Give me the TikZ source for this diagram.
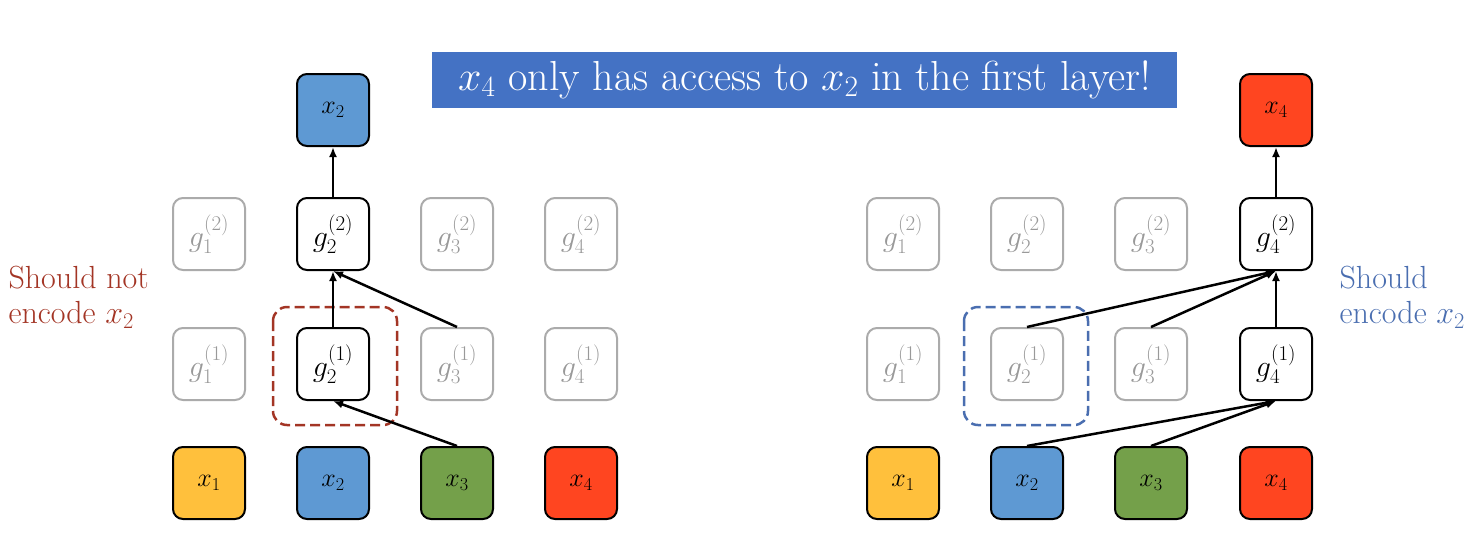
\RequirePackage{fix-cm}
\documentclass[tikz,border=0pt]{standalone}
\usepackage{amsmath}
\usepackage{tikz}
\usetikzlibrary{arrows.meta}
\definecolor{xyellow}{HTML}{FFC03C}
\definecolor{xblue}{HTML}{5E99D3}
\definecolor{xgreen}{HTML}{74A04A}
\definecolor{xred}{HTML}{FF4520}
\definecolor{bannerblue}{HTML}{4472C4}
\definecolor{notred}{HTML}{A33525}
\definecolor{yesblue}{HTML}{4A6EB0}
\tikzset{every edge/.style={draw,-{Latex[length=10pt,width=8pt]},line width=2.5pt}}
\tikzstyle{token}=[rectangle,rounded corners=10pt,draw=black,line width=2pt,minimum width=72pt,minimum height=72pt,inner sep=0pt,font=\fontsize{26}{30}\selectfont]
\tikzstyle{active}=[token,fill=white,font=\fontsize{30}{34}\selectfont]
\tikzstyle{faded}=[token,draw=black!33,text=black!40,font=\fontsize{30}{34}\selectfont]
\tikzstyle{remark}=[align=left,anchor=west,font=\fontsize{32}{35}\selectfont]
\tikzstyle{region}=[rounded corners=14pt,line width=2.5pt,dash pattern=on 10pt off 5pt]

\begin{document}
\begin{tikzpicture}[x=1pt,y=-1pt]
	\useasboundingbox (0,0) rectangle (1477,552);
	\node at (804.5,80) [fill=bannerblue,text=white,minimum width=745pt,minimum height=56pt,inner sep=0pt,font=\fontsize{42}{46}\selectfont] (title) {$x_4$ only has access to $x_2$ in the first layer!};
	% left panel
	\node at (209,483) [token,fill=xyellow] (lx1) {$x_1$};
	\node at (333,483) [token,fill=xblue] (lx2) {$x_2$};
	\node at (457,483) [token,fill=xgreen] (lx3) {$x_3$};
	\node at (581,483) [token,fill=xred] (lx4) {$x_4$};
	\node at (209,364) [faded] (lg11) {$g_1^{(1)}$};
	\node at (333,364) [active] (lg21) {$g_2^{(1)}$};
	\node at (457,364) [faded] (lg31) {$g_3^{(1)}$};
	\node at (581,364) [faded] (lg41) {$g_4^{(1)}$};
	\node at (209,234) [faded] (lg12) {$g_1^{(2)}$};
	\node at (333,234) [active] (lg22) {$g_2^{(2)}$};
	\node at (457,234) [faded] (lg32) {$g_3^{(2)}$};
	\node at (581,234) [faded] (lg42) {$g_4^{(2)}$};
	\node at (333,110) [token,fill=xblue] (lout) {$x_2$};
	\draw[region,draw=notred] (273,307) rectangle (397,425);
	\node at (5,297) [remark,text=notred] (lnote) {Should not\\encode $x_2$};
	\draw (lx3.north) edge (lg21.south);
	\draw (lg21) edge (lg22);
	\draw (lg31.north) edge (lg22.south);
	\draw (lg22) edge (lout);
	% right panel
	\node at (903,483) [token,fill=xyellow] (rx1) {$x_1$};
	\node at (1027,483) [token,fill=xblue] (rx2) {$x_2$};
	\node at (1151,483) [token,fill=xgreen] (rx3) {$x_3$};
	\node at (1276,483) [token,fill=xred] (rx4) {$x_4$};
	\node at (903,364) [faded] (rg11) {$g_1^{(1)}$};
	\node at (1027,364) [faded] (rg21) {$g_2^{(1)}$};
	\node at (1151,364) [faded] (rg31) {$g_3^{(1)}$};
	\node at (1276,364) [active] (rg41) {$g_4^{(1)}$};
	\node at (903,234) [faded] (rg12) {$g_1^{(2)}$};
	\node at (1027,234) [faded] (rg22) {$g_2^{(2)}$};
	\node at (1151,234) [faded] (rg32) {$g_3^{(2)}$};
	\node at (1276,234) [active] (rg42) {$g_4^{(2)}$};
	\node at (1276,110) [token,fill=xred] (rout) {$x_4$};
	\draw[region,draw=yesblue] (964,307) rectangle (1088,425);
	\node at (1336,297) [remark,text=yesblue] (rnote) {Should\\encode $x_2$};
	\draw (rx2.north) edge (rg41.south);
	\draw (rx3.north) edge (rg41.south);
	\draw (rg21.north) edge (rg42.south);
	\draw (rg31.north) edge (rg42.south);
	\draw (rg41) edge (rg42);
	\draw (rg42) edge (rout);
\end{tikzpicture}
\end{document}
